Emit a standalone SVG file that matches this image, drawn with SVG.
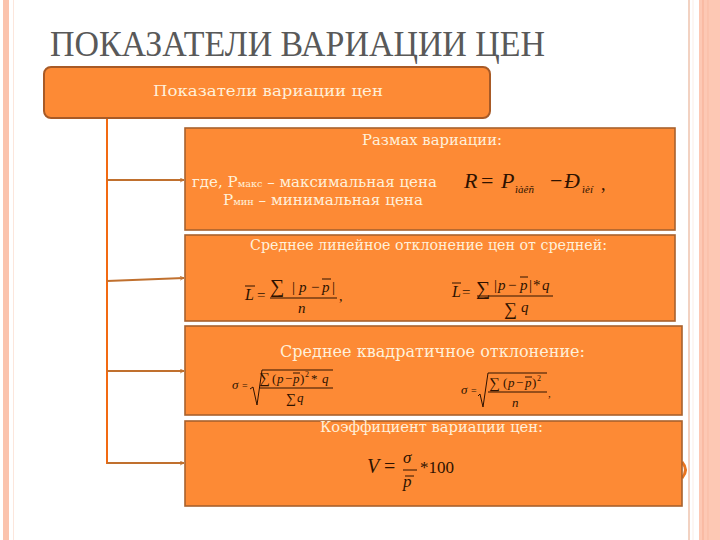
<svg xmlns="http://www.w3.org/2000/svg" width="720" height="540" viewBox="0 0 720 540">
<defs>
<style>
.box{fill:#FD8A35;stroke:#A8612D;stroke-width:1.6}
.hd{fill:#FFF0DA}
.f{fill:#2E1200}
.fl{stroke:#2E1200;stroke-width:1;fill:none}
.conn{stroke:#F26A12;stroke-width:2;fill:none}
.arr{stroke:#C0702E;stroke-width:2;fill:none}
</style>
<marker id="ah" viewBox="0 0 10 10" refX="9" refY="5" markerWidth="5" markerHeight="5" orient="auto" markerUnits="userSpaceOnUse">
<path d="M1,1 L9,5 L1,9" fill="none" stroke="#C0702E" stroke-width="1.6"/>
</marker>
</defs>
<rect x="0" y="0" width="720" height="540" fill="#FFFFFF"/>
<rect x="3" y="0" width="6" height="540" fill="#FBC3AD"/>
<line x1="13.5" y1="0" x2="13.5" y2="540" stroke="#FCE6DC" stroke-width="1"/>
<line x1="689" y1="0" x2="689" y2="540" stroke="#F2D2C2" stroke-width="2"/>
<line x1="693" y1="0" x2="693" y2="540" stroke="#FBEDE6" stroke-width="1"/>
<rect x="699" y="0" width="21" height="540" fill="#FDC8B4"/>
<line x1="703" y1="0" x2="703" y2="540" stroke="#F6AD93" stroke-width="1"/>
<line x1="708" y1="0" x2="708" y2="540" stroke="#F9BBA3" stroke-width="1"/>
<path d="M682,462 Q689,470 682,478" fill="none" stroke="#E8741F" stroke-width="3"/>
<text x="50" y="56" font-family="'Liberation Serif', serif" font-size="35" fill="#595959" textLength="495" lengthAdjust="spacingAndGlyphs">ПОКАЗАТЕЛИ ВАРИАЦИИ ЦЕН</text>

<g id="connectors">
<line class="conn" x1="107" y1="118" x2="107" y2="464"/>
<line class="arr" x1="107" y1="180" x2="184" y2="180" marker-end="url(#ah)"/>
<line class="arr" x1="107" y1="281" x2="184" y2="278" marker-end="url(#ah)"/>
<line class="arr" x1="107" y1="371" x2="184" y2="371" marker-end="url(#ah)"/>
<line class="arr" x1="107" y1="463" x2="184" y2="463" marker-end="url(#ah)"/>
</g>

<g id="root">
<rect x="44" y="67" width="446" height="51" rx="7" ry="7" fill="#FD8A35" stroke="#A85A26" stroke-width="2"/>
<text class="hd" font-family="'DejaVu Serif', serif" x="153" y="96" font-size="15" textLength="230" lengthAdjust="spacingAndGlyphs">Показатели вариации цен</text>
</g>

<g id="range">
<rect class="box" x="185" y="128" width="490" height="102"/>
<g font-family="'DejaVu Serif', serif">
<text class="hd" x="362" y="145" font-size="14" textLength="140" lengthAdjust="spacingAndGlyphs">Размах вариации:</text>
<text class="hd" x="192" y="187" font-size="14" textLength="245" lengthAdjust="spacingAndGlyphs">где, Р<tspan font-size="9">макс</tspan> – максимальная цена</text>
<text class="hd" x="223" y="205" font-size="14" textLength="200" lengthAdjust="spacingAndGlyphs">Р<tspan font-size="9">мин</tspan> – минимальная цена</text>
</g>
<g font-family="'Liberation Serif', serif">
<text class="f" font-style="italic" x="464" y="188" font-size="22">R</text>
<text class="f" x="481" y="188" font-size="22">=</text>
<text class="f" font-style="italic" x="501" y="188" font-size="22">P</text>
<text class="f" font-style="italic" x="515" y="193" font-size="11">ìàêñ</text>
<text class="f" x="550" y="188" font-size="22">−</text>
<text class="f" font-style="italic" x="564" y="188" font-size="22">Ð</text>
<text class="f" font-style="italic" x="582" y="193" font-size="11">ìèí</text>
<text class="f" x="601" y="190" font-size="18">,</text>
</g>
</g>

<g id="linear">
<rect class="box" x="185" y="235" width="490" height="86"/>
<text class="hd" font-family="'DejaVu Serif', serif" x="250" y="250" font-size="14" textLength="357" lengthAdjust="spacingAndGlyphs">Среднее линейное отклонение цен от средней:</text>
<g font-family="'Liberation Serif', serif">
<text class="f" font-style="italic" x="245" y="300" font-size="16">L</text>
<line class="fl" x1="245" y1="286" x2="255" y2="286"/>
<text class="f" x="257" y="300" font-size="15">=</text>
<text class="f" x="270" y="293" font-size="20">∑</text>
<text class="f" x="292" y="292" font-size="15">|</text>
<text class="f" font-style="italic" x="299" y="292" font-size="15">p</text>
<text class="f" x="311" y="292" font-size="15">−</text>
<text class="f" font-style="italic" x="322" y="292" font-size="15">p</text>
<line class="fl" x1="322" y1="279" x2="331" y2="279"/>
<text class="f" x="332" y="292" font-size="15">|</text>
<line class="fl" x1="270" y1="298" x2="337" y2="298"/>
<text class="f" font-style="italic" x="298" y="313" font-size="15">n</text>
<text class="f" x="339" y="301" font-size="14">,</text>

<text class="f" font-style="italic" x="452" y="297" font-size="16">L</text>
<line class="fl" x1="452" y1="283" x2="461" y2="283"/>
<text class="f" x="462" y="297" font-size="15">=</text>
<text class="f" x="476" y="295" font-size="20">∑</text>
<text class="f" x="494" y="290" font-size="15">|</text>
<text class="f" font-style="italic" x="498" y="290" font-size="15">p</text>
<text class="f" x="508" y="290" font-size="15">−</text>
<text class="f" font-style="italic" x="520" y="290" font-size="15">p</text>
<line class="fl" x1="520" y1="277" x2="528" y2="277"/>
<text class="f" x="529" y="290" font-size="15">|</text>
<text class="f" x="533" y="290" font-size="15">*</text>
<text class="f" font-style="italic" x="542" y="290" font-size="15">q</text>
<line class="fl" x1="477" y1="296" x2="553" y2="296"/>
<text class="f" x="504" y="315" font-size="18">∑</text>
<text class="f" font-style="italic" x="521" y="312" font-size="15">q</text>
</g>
</g>

<g id="stddev">
<rect class="box" x="185" y="326" width="497" height="89"/>
<text class="hd" font-family="'DejaVu Serif', serif" x="280" y="357" font-size="16" textLength="305" lengthAdjust="spacingAndGlyphs">Среднее квадратичное отклонение:</text>
<g font-family="'Liberation Serif', serif">
<text class="f" font-style="italic" x="232" y="389" font-size="13">σ</text>
<text class="f" x="242" y="389" font-size="10">=</text>
<path class="fl" d="M250,389 L253,387 L257,405 L262,370 L333,370"/>
<text class="f" x="259" y="383" font-size="15">∑</text>
<text class="f" x="272" y="383" font-size="13">(</text>
<text class="f" font-style="italic" x="277" y="383" font-size="13">p</text>
<text class="f" x="285" y="383" font-size="13">−</text>
<text class="f" font-style="italic" x="293" y="383" font-size="13">p</text>
<line class="fl" x1="293" y1="373" x2="300" y2="373"/>
<text class="f" x="300" y="383" font-size="13">)</text>
<text class="f" x="305" y="377" font-size="8">2</text>
<text class="f" x="311" y="383" font-size="13">*</text>
<text class="f" font-style="italic" x="322" y="383" font-size="13">q</text>
<line class="fl" x1="260" y1="388" x2="333" y2="388"/>
<text class="f" x="286" y="403" font-size="14">∑</text>
<text class="f" font-style="italic" x="297" y="402" font-size="13">q</text>

<text class="f" font-style="italic" x="461" y="394" font-size="13">σ</text>
<text class="f" x="471" y="394" font-size="10">=</text>
<path class="fl" d="M478,396 L480,394 L483,407 L488,373 L547,373"/>
<text class="f" x="489" y="388" font-size="15">∑</text>
<text class="f" x="503" y="387" font-size="13">(</text>
<text class="f" font-style="italic" x="508" y="387" font-size="13">p</text>
<text class="f" x="516" y="387" font-size="13">−</text>
<text class="f" font-style="italic" x="525" y="387" font-size="13">p</text>
<line class="fl" x1="525" y1="377" x2="532" y2="377"/>
<text class="f" x="532" y="387" font-size="13">)</text>
<text class="f" x="537" y="381" font-size="8">2</text>
<line class="fl" x1="488" y1="392" x2="547" y2="392"/>
<text class="f" font-style="italic" x="512" y="407" font-size="13">n</text>
<text class="f" x="548" y="397" font-size="11">,</text>
</g>
</g>

<g id="coef">
<rect class="box" x="185" y="421" width="497" height="85"/>
<text class="hd" font-family="'DejaVu Serif', serif" x="320" y="432" font-size="14" textLength="223" lengthAdjust="spacingAndGlyphs">Коэффициент вариации цен:</text>
<g font-family="'Liberation Serif', serif">
<text class="f" font-style="italic" x="367" y="473" font-size="20">V</text>
<text class="f" x="384" y="473" font-size="20">=</text>
<text class="f" font-style="italic" x="403" y="463" font-size="17">σ</text>
<line class="fl" x1="403" y1="470" x2="417" y2="470"/>
<line class="fl" x1="405" y1="476" x2="414" y2="476"/>
<text class="f" font-style="italic" x="403" y="487" font-size="17">p</text>
<text class="f" x="420" y="473" font-size="17">*100</text>
</g>
</g>
</svg>
